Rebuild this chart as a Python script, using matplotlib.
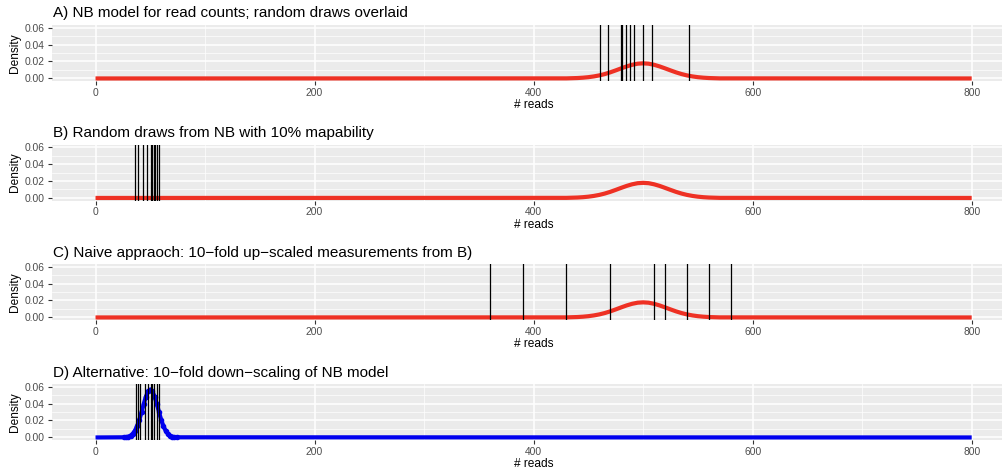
import matplotlib.pyplot as plt
from matplotlib.ticker import MultipleLocator

plt.rcParams['font.family'] = ['Liberation Sans', 'DejaVu Sans']

# NB density (mean 500)
nb_x = [0, 430, 435, 440, 445, 450, 455, 460, 465, 470, 475, 480, 485, 490, 495,
        500, 505, 510, 515, 520, 525, 530, 535, 540, 545, 550, 555, 560, 565, 570, 800]
nb_y = [0.0, 0.0001, 0.0003, 0.0005, 0.0009, 0.0015, 0.0024, 0.0036, 0.0052, 0.0072,
        0.0095, 0.0119, 0.0142, 0.0161, 0.0174, 0.0178, 0.0174, 0.0161, 0.0142, 0.0119,
        0.0095, 0.0072, 0.0052, 0.0036, 0.0024, 0.0015, 0.0009, 0.0005, 0.0003, 0.0001, 0.0]

# down-scaled NB density (mean 50)
nb10_x = [0, 26, 28, 30, 32, 34, 36, 38, 40, 42, 44, 46, 48, 50,
          52, 54, 56, 58, 60, 62, 64, 66, 68, 70, 72, 74, 800]
nb10_y = [0.0, 0.0002, 0.0004, 0.0010, 0.0022, 0.0044, 0.0080, 0.0134, 0.0207, 0.0297,
          0.0394, 0.0481, 0.0542, 0.0564, 0.0542, 0.0481, 0.0394, 0.0297, 0.0207, 0.0134,
          0.0080, 0.0044, 0.0022, 0.0010, 0.0004, 0.0002, 0.0]

# random draws
draws_a = [461, 468, 480, 481, 484, 488, 492, 500, 508, 542]
draws_b = [36, 39, 43, 47, 51, 52, 53, 54, 56, 58]
draws_c = [360, 390, 430, 470, 510, 520, 540, 560, 580]
draws_d = [37, 39, 41, 45, 48, 51, 52, 53, 56, 58]

titles = ["A) NB model for read counts; random draws overlaid",
          "B) Random draws from NB with 10% mapability",
          "C) Naive appraoch: 10\u2212fold up\u2212scaled measurements from B)",
          "D) Alternative: 10\u2212fold down\u2212scaling of NB model"]

W, H = 1003, 476
fig = plt.figure(figsize=(W / 100, H / 100), dpi=100)

panel_tops = [25, 144.5, 264, 384]
panel_h = 56
left = 51.7
right = 1015.5

panels = [
    (nb_x, nb_y, draws_a, '#ee3124', False),
    (nb_x, nb_y, draws_b, '#ee3124', False),
    (nb_x, nb_y, draws_c, '#ee3124', False),
    (nb10_x, nb10_y, draws_d, '#0000ee', True),
]

for i, (cx, cy, draws, col, dots) in enumerate(panels):
    top = panel_tops[i]
    ax = fig.add_axes([left / W, 1 - (top + panel_h) / H, (right - left) / W, panel_h / H])
    ax.set_facecolor('#ebebeb')
    for s in ax.spines.values():
        s.set_visible(False)
    ax.set_xlim(-40, 840)
    ax.set_ylim(-0.003, 0.063)
    ax.xaxis.set_major_locator(MultipleLocator(200))
    ax.xaxis.set_minor_locator(MultipleLocator(100))
    ax.yaxis.set_major_locator(MultipleLocator(0.02))
    ax.yaxis.set_minor_locator(MultipleLocator(0.01))
    ax.grid(True, which='major', color='white', lw=1.1)
    ax.grid(True, which='minor', color='white', lw=0.5)
    ax.set_axisbelow(True)
    ax.tick_params(which='major', length=3, width=0.8, color='#333333',
                   labelsize=7.4, labelcolor='#4d4d4d', pad=2)
    ax.tick_params(which='minor', length=0)
    ax.set_yticks([0, 0.02, 0.04, 0.06])
    ax.set_yticklabels(['0.00', '0.02', '0.04', '0.06'])

    ax.plot(cx, cy, color=col, lw=3, solid_capstyle='butt', zorder=2)
    if dots:
        ax.plot(cx[1:-1], cy[1:-1], 'o', color=col, ms=3, zorder=2)
    for d in draws:
        ax.axvline(d, color='black', lw=0.9, zorder=3)

    ax.set_xlabel('# reads', fontsize=8.6, labelpad=1)
    ax.set_ylabel('Density', fontsize=8.6, labelpad=3)

    fig.text(52.7 / W, 1 - (top - 7.5) / H, titles[i], fontsize=11,
             ha='left', va='baseline')

fig.savefig('out.png', dpi=100)
